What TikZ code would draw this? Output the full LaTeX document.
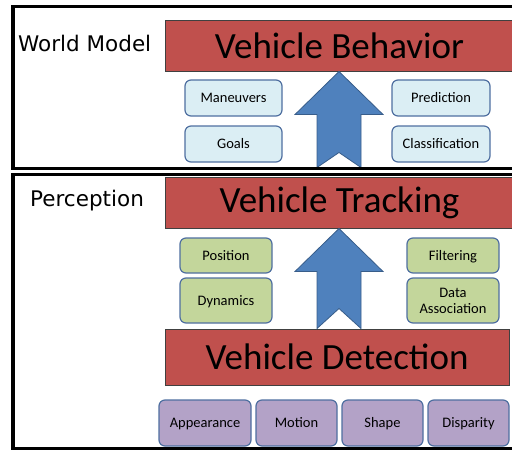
\documentclass[tikz,border=0pt]{standalone}
\usepackage{fontspec}
\setmainfont{Carlito}
\newfontfamily\framefont{DejaVu Sans}
\usetikzlibrary{positioning,calc}

\definecolor{layerred}{HTML}{C0504D}
\definecolor{partedge}{HTML}{4F6FA0}
\definecolor{worldfill}{HTML}{DBEEF4}
\definecolor{trackfill}{HTML}{C3D69B}
\definecolor{detectfill}{HTML}{B3A2C7}
\definecolor{arrowfill}{HTML}{4F81BD}
\definecolor{arrowedge}{HTML}{385D8A}

\tikzset{
  layer/.style={draw=black!75, line width=1pt, fill=layerred, inner sep=0pt,
    minimum height=51pt, font=\fontsize{37}{40}\selectfont},
  part/.style={draw=partedge, line width=1.2pt, rounded corners=6pt, inner sep=0pt,
    outer sep=0pt, align=center, font=\fontsize{14.5}{16}\selectfont},
  oneline/.style={text height=11pt, text depth=2pt},
  worldpart/.style={part, oneline, fill=worldfill, minimum width=97pt, minimum height=36pt},
  trackpart/.style={part, fill=trackfill, minimum width=92pt, minimum height=35pt},
  detectpart/.style={part, oneline, fill=detectfill, minimum width=81pt, minimum height=46pt},
  frame/.style={draw=black, line width=3.5pt},
  framelabel/.style={font=\framefont\fontsize{21.5}{24}\selectfont, inner sep=0pt, anchor=base west},
  blockarrow/.style={fill=arrowfill, draw=arrowedge, line width=0.8pt}
}

% notched block arrow: #1 = foot, #2 = tip, #3 = notch depth
\newcommand{\upblock}[3]{
  \path[blockarrow] let \p1=#1, \p2=#2 in
    (\x1-22pt,\y1) -- (\x1,\y1+#3) -- (\x1+22pt,\y1) -- (\x1+22pt,\y2-43pt)
    -- (\x1+44pt,\y2-43pt) -- (\x2,\y2) -- (\x1-44pt,\y2-43pt)
    -- (\x1-22pt,\y2-43pt) -- cycle;
}

\begin{document}
\begin{tikzpicture}[x=1pt,y=-1pt]
  \useasboundingbox (0,0) rectangle (512,450);
  \clip (0,0) rectangle (512,450);

  % layers
  \node[layer, minimum width=349pt] (beh) at (339.5,45.5) {Vehicle Behavior};
  \node[layer, minimum width=349pt] (trk) at (339.5,202.5) {Vehicle Tracking};
  \node[layer, minimum width=344pt, minimum height=56pt] (det) at (337,357) {Vehicle Detection};

  % world model parts
  \node[worldpart] (man) at (233.5,98) {Maneuvers};
  \node[worldpart, below=10pt of man] (goal) {Goals};
  \node[worldpart, minimum width=98pt] (pred) at (441,98) {Prediction};
  \node[worldpart, minimum width=98pt, below=10pt of pred] (cls) {Classification};

  % tracking parts
  \node[trackpart, oneline] (pos) at (226,255.5) {Position};
  \node[trackpart, oneline, minimum height=45pt, below=5pt of pos] (dyn) {Dynamics};
  \node[trackpart, oneline] (filt) at (453,255.5) {Filtering};
  \node[trackpart, minimum height=45pt, below=5pt of filt] (assoc) {Data\\Association};

  % detection cues
  \node[detectpart, minimum width=92pt] (app) at (205,423) {Appearance};
  \node[detectpart, right=5pt of app] (mot) {Motion};
  \node[detectpart, right=5pt of mot] (shp) {Shape};
  \node[detectpart, right=5pt of shp] (disp) {Disparity};

  % arrows between layers
  \coordinate (ax) at (339,0);
  \upblock{($(ax |- trk.north)+(0,-9)$)}{(ax |- beh.south)}{15pt}
  \upblock{(ax |- det.north)}{(ax |- trk.south)}{20pt}

  % frames
  \draw[frame] (13,6.5) rectangle (530,168.5);
  \draw[frame] (13,174.5) rectangle (530,448.5);
  \node[framelabel] (wm) at (18,51) {World Model};
  \node[framelabel] (perc) at (30,206) {Perception};
\end{tikzpicture}
\end{document}
